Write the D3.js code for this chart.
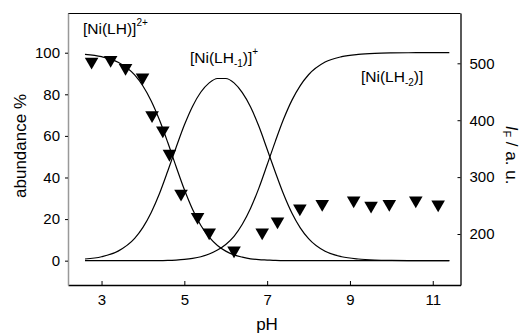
<!DOCTYPE html>
<html>
<head>
<meta charset="utf-8">
<script src="https://cdn.jsdelivr.net/npm/d3@7"></script>
<style>
body { margin: 0; background: #fff; }
text { font-family: "Liberation Sans", Arial, sans-serif; fill: #000; }
</style>
</head>
<body>
<script>
// species distribution (abundance %)
var pH = [2.6, 3.0, 3.4, 3.8, 4.0, 4.2, 4.4, 4.6, 4.8, 5.0, 5.2, 5.4, 5.6, 5.8, 6.0, 6.2, 6.4, 6.6, 6.8, 7.0, 7.2, 7.4, 7.6, 7.8, 8.0, 8.4, 8.8, 9.2, 9.6, 10.0, 10.6, 11.4];
var niLH   = [99.2, 98.1, 95.4, 89.3, 84.0, 76.8, 67.6, 56.8, 45.3, 34.2, 24.6, 16.9, 11.3, 7.3, 4.6, 2.8, 1.7, 0.9, 0.5, 0.3, 0.1, 0, 0, 0, 0, 0, 0, 0, 0, 0, 0, 0];
var niLHm1 = [0.8, 1.9, 4.6, 10.7, 16.0, 23.2, 32.3, 43.1, 54.4, 65.2, 74.3, 81.1, 85.5, 87.6, 87.6, 85.5, 80.8, 73.9, 64.6, 53.6, 42.4, 31.8, 22.8, 15.8, 10.6, 4.5, 1.9, 0.8, 0.3, 0.1, 0, 0];
var niLHm2 = [0, 0, 0, 0, 0, 0, 0, 0.1, 0.3, 0.6, 1.1, 1.9, 3.2, 5.1, 7.8, 11.7, 17.5, 25.2, 34.9, 46.1, 57.5, 68.2, 77.2, 84.2, 89.4, 95.5, 98.1, 99.2, 99.7, 99.9, 100, 100];

// fluorescence intensity (right axis)
var fpH = [2.76, 3.22, 3.58, 3.99, 4.22, 4.48, 4.64, 4.92, 5.32, 5.60, 6.20, 6.88, 7.25, 7.79, 8.33, 9.09, 9.51, 9.95, 10.59, 11.13];
var fI  = [503, 506, 492, 475, 409, 382, 341, 271, 230, 203, 171, 203, 222, 245, 253, 259, 250, 253, 259, 252];

var xTicks = [3, 5, 7, 9, 11];
var yTicks = [0, 20, 40, 60, 80, 100];
var y2Ticks = [200, 300, 400, 500];

var width = 531, height = 334;
var plotLeft = 68, plotRight = 460.5, plotTop = 13, plotBottom = 285;

var svg = d3.select("body").append("svg").attr("width", width).attr("height", height);

var x = d3.scaleLinear().domain([2.19, 11.67]).range([plotLeft, plotRight]);
var y = d3.scaleLinear().domain([-11.7, 119.1]).range([plotBottom, plotTop]);
var y2 = d3.scaleLinear().domain([110.4, 588.4]).range([plotBottom, plotTop]);

// frame top line
svg.append("line").attr("x1", plotLeft).attr("x2", plotRight).attr("y1", plotTop + 0.5).attr("y2", plotTop + 0.5)
    .attr("stroke", "#000").attr("stroke-width", 1.2);

// axes
var gx = svg.append("g").attr("transform", "translate(0," + plotBottom + ")")
    .call(d3.axisBottom(x).tickValues(xTicks).tickSizeInner(-4).tickSizeOuter(0).tickPadding(9));
gx.select(".domain").attr("stroke", "#000").attr("stroke-width", 1.3);

var gy = svg.append("g").attr("transform", "translate(" + plotLeft + ",0)")
    .call(d3.axisLeft(y).tickValues(yTicks).tickSizeInner(3).tickSizeOuter(0).tickPadding(5));
gy.select(".domain").attr("stroke", "#999").attr("stroke-width", 1.5);

var gy2 = svg.append("g").attr("transform", "translate(" + plotRight + ",0)")
    .call(d3.axisRight(y2).tickValues(y2Ticks).tickSizeInner(-3).tickSizeOuter(0).tickPadding(9));
gy2.select(".domain").attr("stroke", "#000").attr("stroke-width", 1.3);

svg.selectAll("g").attr("font-family", null).attr("font-size", null);
svg.selectAll("g text").attr("font-size", 15);

// species curves
var line = d3.line().x(function(d){ return x(d[0]); }).y(function(d){ return y(d[1]); }).curve(d3.curveMonotoneX);
[niLH, niLHm1, niLHm2].forEach(function(s){
    svg.append("path")
        .datum(pH.map(function(p, i){ return [p, s[i]]; }))
        .attr("d", line)
        .attr("fill", "none").attr("stroke", "#000").attr("stroke-width", 1.2);
});

// fluorescence markers (down triangles)
svg.selectAll("path.tri").data(fpH.map(function(p, i){ return [p, fI[i]]; }))
    .enter().append("path").attr("class", "tri")
    .attr("d", d3.symbol().type(d3.symbolTriangle).size(80))
    .attr("transform", function(d){ return "translate(" + x(d[0]) + "," + y2(d[1]) + ") rotate(180)"; })
    .attr("fill", "#000");

// species labels
function label(xp, yp, sub, sup) {
    var t = svg.append("text").attr("x", xp).attr("y", yp).attr("font-size", 15.5);
    t.append("tspan").text("[Ni(LH");
    if (sub) {
        t.append("tspan").attr("font-size", 10).attr("dy", 4).text(sub);
        t.append("tspan").attr("dy", -4).text(")]");
    } else {
        t.append("tspan").text(")]");
    }
    if (sup) t.append("tspan").attr("font-size", 10).attr("dy", -8).text(sup);
}
label(83, 34, null, "2+");
label(190, 63, "-1", "+");
label(361, 82, "-2", null);

// axis titles
svg.append("text").attr("transform", "translate(26,146) rotate(-90)")
    .attr("text-anchor", "middle").attr("font-size", 17).text("abundance %");

var t2 = svg.append("text").attr("transform", "translate(506,155) rotate(90)")
    .attr("text-anchor", "middle").attr("font-size", 17);
t2.append("tspan").attr("font-style", "italic").text("I");
t2.append("tspan").attr("font-size", 11).attr("dy", 3).text("F");
t2.append("tspan").attr("dy", -3).text(" / a. u.");

svg.append("text").attr("x", 267).attr("y", 330)
    .attr("text-anchor", "middle").attr("font-size", 17).text("pH");
</script>
</body>
</html>
